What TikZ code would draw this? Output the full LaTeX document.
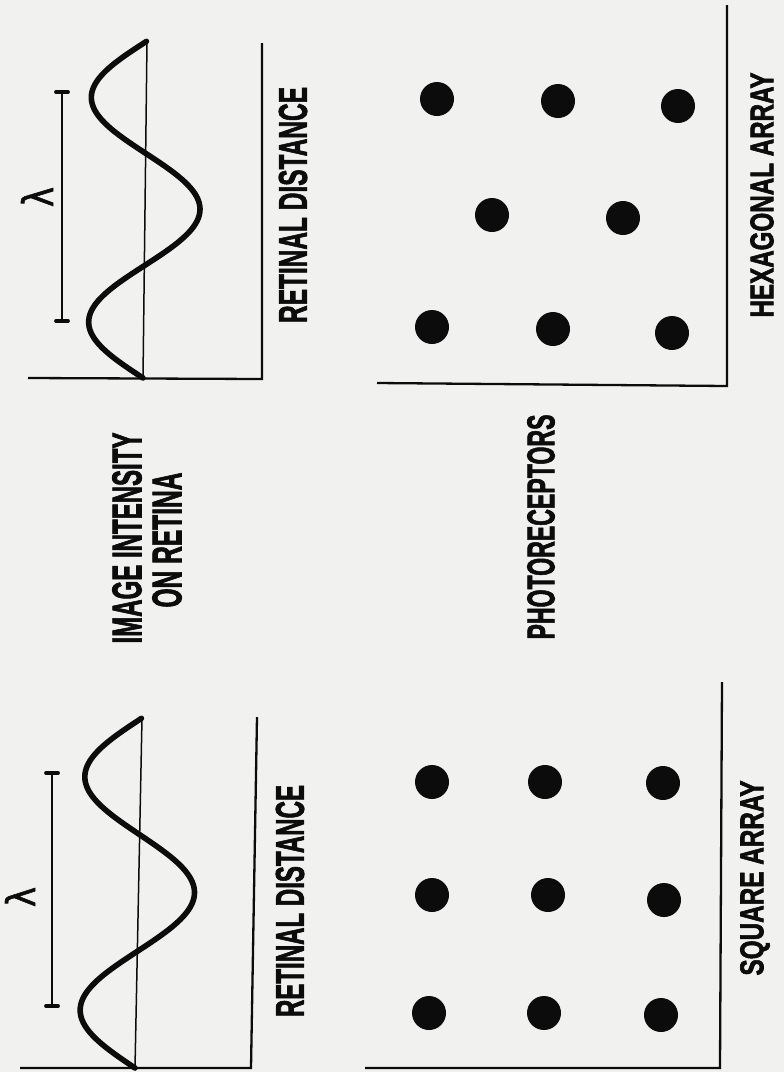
\documentclass[tikz,border=0pt]{standalone}
\usepackage{graphicx}
\usepackage{fontspec}
\setmainfont{Liberation Sans}
\newfontfamily\heavyfont[BoldFeatures={FakeBold=2.2}]{Liberation Sans}
\newfontfamily\lamfont[FakeBold=1.5]{DejaVu Sans}
\definecolor{pagebg}{RGB}{241,241,240}
\definecolor{ink}{RGB}{12,12,12}
\begin{document}
\begin{tikzpicture}[x=1pt,y=-1pt,
  lbl/.style={inner sep=0pt, rotate=90, text=ink, font=\heavyfont\bfseries},
  axisline/.style={line width=2.3pt, draw=ink},
  midline/.style={line width=1.5pt, draw=ink},
  wave/.style={line width=5.6pt, draw=ink, line join=round, line cap=round},
  dot/.style={circle, fill=ink, minimum size=34pt, inner sep=0pt},
  lambar/.style={line width=1.8pt, draw=ink},
  barend/.style={line width=3.8pt, draw=ink, line cap=round}]
\fill[pagebg] (0,0) rectangle (784,1072);
\useasboundingbox (0,0) rectangle (784,1072);

% ---------- top-left: image intensity (upper) ----------
\coordinate (tlO) at (28,378);
\coordinate (tlC) at (262,379);
\coordinate (tlT) at (262,43);
\draw[axisline] (tlO) -- (tlC) -- (tlT);
\coordinate (tlMb) at (143,378);
\coordinate (tlMt) at (147,41);
\draw[midline] (tlMb) -- (tlMt);
\draw[wave] plot[domain=0:1, samples=140, smooth] ({143+4*\x-55*sin(540*\x)}, {378-337*\x});
\coordinate (tlLa) at (62,92);
\coordinate (tlLb) at (62,321);
\draw[lambar] (tlLa) -- (tlLb);
\draw[barend] (56,92) -- (68,92);
\draw[barend] (56,321) -- (68,321);
\node[lbl, font=\lamfont] (tlLam) at (37,197) {\resizebox{20pt}{32pt}{λ}};
\node[lbl] (tlRD) at (293,205) {\resizebox{236pt}{28pt}{RETINAL DISTANCE}};

% ---------- middle-left label ----------
\node[lbl] (imgA) at (127,538) {\resizebox{211pt}{29pt}{IMAGE INTENSITY}};
\node[lbl] (imgB) at (167,540) {\resizebox{135pt}{29pt}{ON RETINA}};

% ---------- bottom-left: image intensity (lower) ----------
\coordinate (blO) at (20,1068);
\coordinate (blC) at (251,1068);
\coordinate (blT) at (257,717);
\draw[axisline] (blO) -- (blC) -- (blT);
\coordinate (blMb) at (135,1068);
\coordinate (blMt) at (142,718);
\draw[midline] (blMb) -- (blMt);
\draw[wave] plot[domain=0:1, samples=140, smooth] ({135+7*\x-56*sin(540*\x)}, {1068-350*\x});
\coordinate (blLa) at (52,773);
\coordinate (blLb) at (52,1006);
\draw[lambar] (blLa) -- (blLb);
\draw[barend] (46,773) -- (58,773);
\draw[barend] (46,1006) -- (58,1006);
\node[lbl, font=\lamfont] (blLam) at (20,897) {\resizebox{20pt}{30pt}{λ}};
\node[lbl] (blRD) at (290,901) {\resizebox{232pt}{28pt}{RETINAL DISTANCE}};

% ---------- top-right: hexagonal array ----------
\coordinate (trO) at (377,383);
\coordinate (trC) at (727,386);
\coordinate (trT) at (727,5);
\draw[axisline] (trO) -- (trC) -- (trT);
\node[dot] (h1) at (437,99) {};
\node[dot] (h2) at (558,101) {};
\node[dot] (h3) at (678,106) {};
\node[dot] (h4) at (492,215) {};
\node[dot] (h5) at (623,218) {};
\node[dot] (h6) at (432,327) {};
\node[dot] (h7) at (553,329) {};
\node[dot] (h8) at (672,333) {};
\node[lbl] (hexL) at (762,195) {\resizebox{245pt}{23pt}{HEXAGONAL ARRAY}};

% ---------- middle label ----------
\node[lbl] (photo) at (541,527) {\resizebox{225pt}{27pt}{PHOTORECEPTORS}};

% ---------- bottom-right: square array ----------
\coordinate (brO) at (365,1068);
\coordinate (brC) at (720,1068);
\coordinate (brT) at (722,682);
\draw[axisline] (brO) -- (brC) -- (brT);
\node[dot] (s1) at (432,782) {};
\node[dot] (s2) at (545,782) {};
\node[dot] (s3) at (663,783) {};
\node[dot] (s4) at (432,895) {};
\node[dot] (s5) at (548,895) {};
\node[dot] (s6) at (664,900) {};
\node[dot] (s7) at (429,1013) {};
\node[dot] (s8) at (544,1013) {};
\node[dot] (s9) at (661,1015) {};
\node[lbl] (sqL) at (755,878) {\resizebox{195pt}{23pt}{SQUARE ARRAY}};
\end{tikzpicture}
\end{document}
